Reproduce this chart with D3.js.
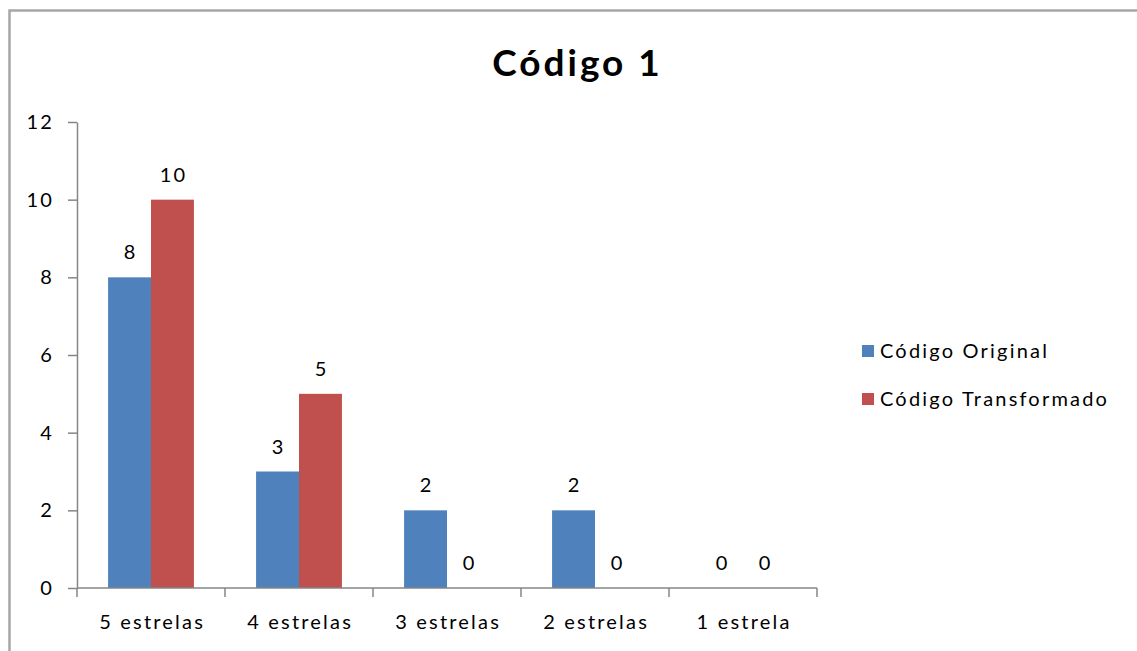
<!DOCTYPE html>
<html>
<head>
<meta charset="utf-8">
<script src="https://cdn.jsdelivr.net/npm/d3@7"></script>
<style>
  html, body { margin: 0; padding: 0; background: #fff; }
  svg { display: block; font-family: Lato, "Open Sans", sans-serif; }
</style>
</head>
<body>
<svg id="chart" width="1137" height="651"></svg>
<script>
// Chart data
const categories = ["5 estrelas", "4 estrelas", "3 estrelas", "2 estrelas", "1 estrela"];
const seriesNames = ["Código Original", "Código Transformado"];
const original = [8, 3, 2, 2, 0];
const transformado = [10, 5, 0, 0, 0];
const yTicks = [0, 2, 4, 6, 8, 10, 12];
const title = "Código 1";

const colors = ["#4F81BD", "#C0504D"];
const seriesValues = [original, transformado];
const LS = 2.2;           // letter spacing for body text
const FS = 20;            // body font size

const svg = d3.select("#chart");

// Outer chart frame
svg.append("rect")
  .attr("x", 9.5).attr("y", 10.5)
  .attr("width", 1140).attr("height", 660)
  .attr("fill", "#fff")
  .attr("stroke", "#a6a6a6").attr("stroke-width", 2.5);

// Title
svg.append("text")
  .attr("x", 576 + 1.5).attr("y", 76)
  .attr("text-anchor", "middle")
  .attr("font-size", 37).attr("font-weight", "bold")
  .attr("letter-spacing", 3)
  .attr("fill", "#000")
  .text(title);

const plot = { left: 77, right: 817, top: 122, bottom: 588 };

const x = d3.scaleBand().domain(categories).range([plot.left, plot.right]).padding(0);
const y = d3.scaleLinear().domain([0, 12]).range([plot.bottom, plot.top]);

const barW = x.bandwidth() * 0.29;
const xs = d3.scaleBand().domain(d3.range(seriesNames.length))
  .range([0, barW * 2]);
const groupOffset = (x.bandwidth() - barW * 2) / 2;

// Bars
seriesValues.forEach((vals, si) => {
  svg.append("g").selectAll("rect")
    .data(vals)
    .join("rect")
    .attr("x", (d, i) => x(categories[i]) + groupOffset + xs(si))
    .attr("y", d => y(d))
    .attr("width", xs.bandwidth())
    .attr("height", d => y(0) - y(d))
    .attr("fill", colors[si]);

  // Value labels
  svg.append("g").selectAll("text")
    .data(vals)
    .join("text")
    .attr("x", (d, i) => x(categories[i]) + groupOffset + xs(si) + xs.bandwidth() / 2 + LS / 2)
    .attr("y", d => y(d) - 18)
    .attr("text-anchor", "middle")
    .attr("font-size", FS)
    .attr("letter-spacing", LS)
    .attr("fill", "#000")
    .text(d => d);
});

// Y axis
const yAxis = svg.append("g")
  .attr("transform", `translate(${plot.left},0)`)
  .call(d3.axisLeft(y).tickValues(yTicks).tickSize(9).tickPadding(14).tickSizeOuter(0));
yAxis.select(".domain").attr("stroke", "#868686").attr("stroke-width", 1.5);
yAxis.selectAll(".tick line").attr("stroke", "#868686").attr("stroke-width", 1.5);
yAxis.selectAll(".tick text").attr("font-size", FS).attr("fill", "#000")
  .attr("letter-spacing", LS)
  .attr("font-family", "Lato, 'Open Sans', sans-serif");

// X axis with tick marks at category boundaries
const xAxis = svg.append("g")
  .attr("transform", `translate(0,${plot.bottom})`)
  .call(d3.axisBottom(x).tickSize(0).tickPadding(27));
xAxis.select(".domain").remove();
xAxis.selectAll(".tick text").attr("font-size", FS).attr("fill", "#000")
  .attr("letter-spacing", LS)
  .attr("dx", LS / 2)
  .attr("font-family", "Lato, 'Open Sans', sans-serif");
xAxis.append("line")
  .attr("x1", plot.left).attr("x2", plot.right)
  .attr("stroke", "#868686").attr("stroke-width", 1.5);
const boundaries = categories.map(c => x(c)).concat([x(categories[categories.length - 1]) + x.bandwidth()]);
xAxis.selectAll(".bound").data(boundaries).join("line")
  .attr("class", "bound")
  .attr("x1", d => d).attr("x2", d => d)
  .attr("y1", 0).attr("y2", 9)
  .attr("stroke", "#868686").attr("stroke-width", 1.5);

// Legend
const legend = svg.append("g").attr("transform", "translate(862,351)");
seriesNames.forEach((name, i) => {
  const g = legend.append("g").attr("transform", `translate(0,${i * 48})`);
  g.append("rect").attr("x", 0).attr("y", -6).attr("width", 12).attr("height", 12).attr("fill", colors[i]);
  g.append("text").attr("x", 18).attr("y", 0).attr("dy", "0.35em")
    .attr("font-size", FS).attr("letter-spacing", LS).attr("fill", "#000").text(name);
});
</script>
</body>
</html>
